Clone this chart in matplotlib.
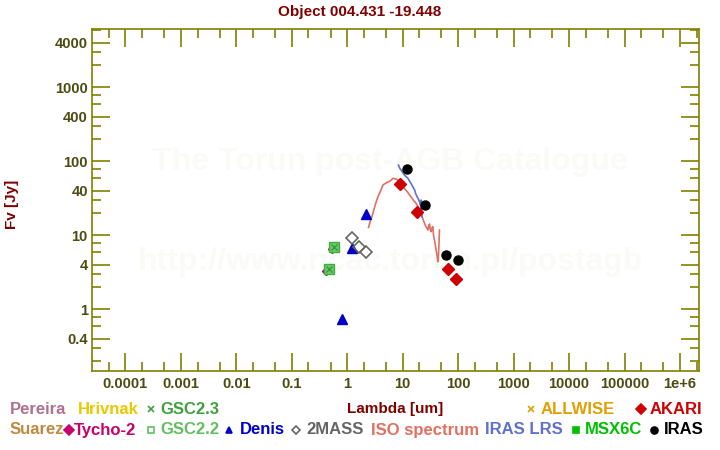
import matplotlib
matplotlib.use('Agg')
import matplotlib.pyplot as plt
from matplotlib.lines import Line2D
from matplotlib.ticker import FixedLocator, NullFormatter

plt.rcParams['font.family'] = ['Liberation Sans', 'DejaVu Sans']
plt.rcParams['font.weight'] = 'bold'

# photometry (wavelength in um, flux in Jy)
tycho_wl = [0.42, 0.53]
tycho_fl = [3.26, 6.5]
gsc22_wl = [0.46, 0.57]
gsc22_fl = [3.5, 6.9]
gsc23_wl = [0.46, 0.57]
gsc23_fl = [3.5, 6.9]
denis_wl = [0.79, 1.22, 2.15]
denis_fl = [0.73, 6.8, 19.5]
mass_wl = [1.24, 1.66, 2.16]
mass_fl = [9.3, 6.9, 5.9]
akari_wl = [9.0, 18.0, 65.0, 90.0]
akari_fl = [49.0, 20.5, 3.5, 2.6]
iras_wl = [12.0, 25.0, 60.0, 100.0]
iras_fl = [79.0, 26.0, 5.4, 4.6]

# ISO SWS spectrum
iso_wl = [2.42, 2.6, 2.9, 3.2, 3.57, 4.0, 4.4, 4.8, 5.27, 5.9, 6.67, 7.4, 8.2,
          9.0, 10.1, 11.0, 12.1, 13.0, 14.2, 15.5, 17.5, 18.8, 20.0, 21.5,
          22.9, 24.0, 25.4, 26.5, 27.5, 28.5, 29.5, 30.5, 31.5, 32.6, 33.6,
          34.9, 36.0, 37.5, 39.0, 40.0, 41.5, 43.0, 44.0, 45.0, 46.0]
iso_fl = [12.8, 15.5, 19.8, 26.0, 33.0, 40.0, 47.9, 50.0, 52.0, 54.0, 59.0,
          58.0, 55.8, 50.0, 45.5, 42.0, 38.8, 36.0, 33.0, 30.0, 27.0, 24.5,
          22.0, 19.5, 17.0, 15.5, 13.8, 13.0, 12.5, 11.8, 13.5, 14.2, 12.0,
          11.2, 12.5, 13.1, 10.0, 8.6, 7.2, 6.3, 5.5, 4.4, 5.0, 7.5, 11.8]

# IRAS LRS spectrum
lrs_wl = [8.4, 8.9, 9.4, 10.1, 10.8, 11.6, 12.4, 13.3, 14.2, 15.3, 16.4,
          17.3, 18.3, 19.2, 20.0, 20.8, 21.6, 21.6, 21.9, 22.4]
lrs_fl = [89.0, 80.0, 76.0, 70.0, 65.0, 62.0, 59.0, 54.0, 50.0, 45.0, 41.0,
          36.0, 33.0, 31.0, 28.5, 26.0, 23.2, 30.0, 20.0, 17.8]

xmajor = [1e-4, 1e-3, 1e-2, 1e-1, 1, 10, 100, 1e3, 1e4, 1e5, 1e6]
xlabels = ['0.0001', '0.001', '0.01', '0.1', '1', '10', '100', '1000',
           '10000', '100000', '1e+6']
ymajor = [0.4, 1, 4, 10, 40, 100, 400, 1000, 4000]
ylabels = ['0.4', '1', '4', '10', '40', '100', '400', '1000', '4000']

axcol = '#808000'
labcol = '#4b4b12'
titcol = '#800000'

fig = plt.figure(figsize=(7.2, 4.5), dpi=100)
ax = fig.add_axes([92/720, 1-371/450, 607/720, 342/450])
ax.set_xscale('log')
ax.set_yscale('log')
ax.set_xlim(2.5e-5, 2.2e6)
ax.set_ylim(0.147, 6140)

# watermark
ax.text(0.491, 0.611, 'The Torun post-AGB Catalogue', transform=ax.transAxes,
        ha='center', va='center', fontsize=23, color='#fafaf6', zorder=0)
ax.text(0.491, 0.319, 'http://www.ncac.torun.pl/postagb', transform=ax.transAxes,
        ha='center', va='center', fontsize=23, color='#fafaf6', zorder=0)

ax.plot(iso_wl, iso_fl, color='#e07060', lw=1.2, zorder=2)
ax.plot(lrs_wl, lrs_fl, color='#6070d0', lw=1.2, zorder=2)

ax.plot(tycho_wl, tycho_fl, 'D', color='#c8006e', ms=4.5, zorder=3)
ax.plot(gsc22_wl, gsc22_fl, 's', mfc='#66cc66', mec='#44aa44', ms=7, zorder=4)
ax.plot(gsc23_wl, gsc23_fl, 'x', color='#3a9a3a', ms=5, mew=1, zorder=5)
ax.plot(denis_wl, denis_fl, '^', color='#0000c8', ms=7, zorder=3)
ax.plot(mass_wl, mass_fl, 'D', mfc='none', mec='#666666', mew=1.2, ms=6, zorder=3)
ax.plot(akari_wl, akari_fl, 'D', color='#d00000', ms=6, zorder=4)
ax.plot(iras_wl, iras_fl, 'o', color='black', ms=6.5, zorder=4)

# axes style
for s in ax.spines.values():
    s.set_color(axcol)
    s.set_linewidth(1.2)
ax.xaxis.set_major_locator(FixedLocator(xmajor))
ax.set_xticklabels(xlabels)
xminor = []
for d in range(-5, 7):
    for m in (2, 5):
        xminor.append(m * 10.0**d)
ax.xaxis.set_minor_locator(FixedLocator(xminor))
ax.yaxis.set_major_locator(FixedLocator(ymajor))
ax.set_yticklabels(ylabels)
yminor = []
for d in range(-1, 4):
    for m in (2, 3, 6, 8):
        yminor.append(m * 10.0**d)
ax.yaxis.set_minor_locator(FixedLocator(yminor))
ax.xaxis.set_minor_formatter(NullFormatter())
ax.yaxis.set_minor_formatter(NullFormatter())
ax.tick_params(which='both', direction='in', top=True, right=True,
               color=axcol, width=1.2, labelcolor=labcol, labelsize=10.5)
ax.tick_params(which='major', length=13)
ax.tick_params(which='minor', length=6.5)
ax.tick_params(axis='x', pad=4)
ax.tick_params(axis='y', pad=3)

fig.text(0.5, 1-12/450, 'Object 004.431 -19.448', ha='center', va='center',
         color=titcol, fontsize=11)
fig.text(395/720, 1-409/450, 'Lambda [um]', ha='center', va='center',
         color=titcol, fontsize=11)
fig.text(12/720, 1-204/450, 'Fv [Jy]', ha='center', va='center',
         rotation=90, color=titcol, fontsize=11)

# legend (names, colours, markers)
def leg(x, y, text, color, marker=None, mx=None, mfc=None, ms=5):
    if marker is not None:
        fig.add_artist(Line2D([mx/720], [1-y/450], marker=marker, color=color,
                              mfc=mfc if mfc is not None else color, mec=color,
                              ms=ms, mew=1.2, transform=fig.transFigure))
    fig.text(x/720, 1-y/450, text, ha='left', va='center', color=color,
             fontsize=12)

leg(10, 409, 'Pereira', '#b07090')
leg(78, 409, 'Hrivnak', '#e8c800')
leg(160, 409, 'GSC2.3', '#40a040', 'x', 151)
leg(541, 409, 'ALLWISE', '#e0a000', 'x', 531)
leg(650, 409, 'AKARI', '#d00000', 'D', 641, ms=5)
leg(10, 430, 'Suarez', '#c08840')
leg(74, 430, 'Tycho-2', '#c8006e', 'D', 69, ms=5)
leg(160, 430, 'GSC2.2', '#60c060', 's', 151, mfc='none', ms=5)
leg(240, 430, 'Denis', '#0000c8', '^', 229, ms=5)
leg(306, 430, '2MASS', '#666666', 'D', 296, mfc='none', ms=4.5)
leg(371, 430, 'ISO spectrum', '#e07060')
leg(485, 430, 'IRAS LRS', '#6070d0')
leg(585, 430, 'MSX6C', '#00c000', 's', 576, ms=5)
leg(664, 430, 'IRAS', '#000000', 'o', 654, ms=5)

fig.savefig('out.png', dpi=100)
